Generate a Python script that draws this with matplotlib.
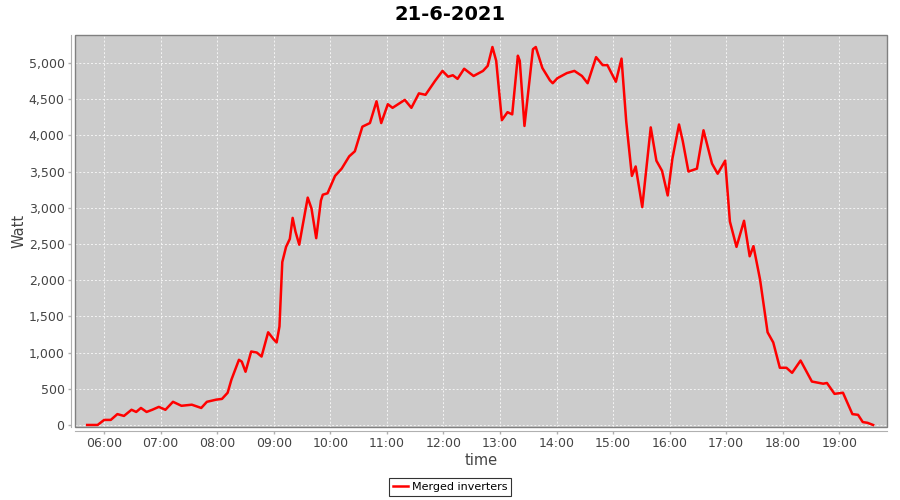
"""
Solar output for one day, merged inverters
"""
import numpy as np
import pandas as pd
import matplotlib
matplotlib.use("Agg")
import matplotlib.pyplot as plt
import matplotlib.dates as mdates
from matplotlib.patches import Rectangle
from matplotlib.ticker import FuncFormatter, MultipleLocator

day = "2021-06-21"
title = "21-6-2021"
series_name = "Merged inverters"

times = [
    "05:42", "05:53", "05:57", "06:00", "06:07", "06:14", "06:21", "06:29",
    "06:34", "06:39", "06:45", "06:51", "06:58", "07:05", "07:13", "07:22",
    "07:33", "07:43", "07:49", "07:59", "08:05", "08:11", "08:15", "08:23",
    "08:26", "08:30", "08:36", "08:42", "08:47", "08:54", "09:00", "09:03",
    "09:06", "09:09", "09:13", "09:17", "09:20", "09:23", "09:27", "09:30",
    "09:36", "09:40", "09:45", "09:50", "09:52", "09:57", "10:05", "10:12",
    "10:20", "10:26", "10:34", "10:42", "10:49", "10:54", "11:01", "11:06",
    "11:19", "11:26", "11:34", "11:41", "11:51", "11:59", "12:05", "12:10",
    "12:15", "12:22", "12:32", "12:42", "12:47", "12:52", "12:56", "13:02",
    "13:08", "13:13", "13:19", "13:21", "13:26", "13:35", "13:38", "13:45",
    "13:53", "13:56", "14:01", "14:11", "14:19", "14:27", "14:33", "14:42",
    "14:49", "14:54", "15:03", "15:09", "15:14", "15:20", "15:24", "15:31",
    "15:40", "15:46", "15:52", "15:58", "16:03", "16:10", "16:14", "16:20",
    "16:29", "16:36", "16:45", "16:51", "16:59", "17:04", "17:11", "17:19",
    "17:25", "17:29", "17:36", "17:44", "17:50", "17:57", "18:04", "18:10",
    "18:19", "18:31", "18:43", "18:47", "18:55", "19:04", "19:14", "19:20",
    "19:25", "19:30", "19:36",
]
watt = [
    0, 0, 40, 70, 70, 150, 125, 210,
    180, 235, 180, 210, 250, 210, 320, 265,
    280, 235, 320, 350, 360, 445, 625, 900,
    875, 735, 1015, 1000, 945, 1280, 1180, 1140,
    1360, 2250, 2460, 2570, 2860, 2670, 2490, 2710,
    3140, 2990, 2580, 3100, 3180, 3200, 3440, 3540,
    3710, 3780, 4120, 4170, 4470, 4170, 4430, 4380,
    4490, 4380, 4580, 4560, 4750, 4890, 4810, 4830,
    4780, 4920, 4820, 4890, 4960, 5220, 5030, 4210,
    4320, 4290, 5100, 5030, 4130, 5190, 5220, 4930,
    4760, 4720, 4790, 4860, 4890, 4820, 4720, 5080,
    4970, 4970, 4740, 5060, 4190, 3440, 3570, 3010,
    4110, 3650, 3510, 3170, 3680, 4150, 3920, 3500,
    3540, 4070, 3610, 3470, 3650, 2810, 2460, 2820,
    2330, 2470, 2010, 1280, 1140, 790, 790, 720,
    890, 600, 570, 580, 430, 445, 150, 140,
    40, 30, 0,
]

t = pd.to_datetime([f"{day} {hm}" for hm in times])

fig = plt.figure(figsize=(9, 5), dpi=100)
ax = fig.add_axes([0.0833, 0.146, 0.9022, 0.784])
ax.set_facecolor("#cccccc")

ax.plot(t, watt, color="#ff0000", lw=1.8, label=series_name,
        solid_joinstyle="round")

ax.set_xlim(pd.Timestamp(f"{day} 05:29"), pd.Timestamp(f"{day} 19:50:40"))
ax.set_ylim(-28, 5386)

ax.xaxis.set_major_locator(mdates.HourLocator())
ax.xaxis.set_major_formatter(mdates.DateFormatter("%H:%M"))
ax.yaxis.set_major_locator(MultipleLocator(500))
ax.yaxis.set_major_formatter(FuncFormatter(lambda v, p: f"{int(v):,}"))

ax.grid(True, color="#f4f4f4", ls=(0, (2, 2)), lw=0.7)
ax.set_axisbelow(True)

# plot outline plus offset axis lines, jfreechart style
for s in ax.spines.values():
    s.set_visible(False)
for side in ("left", "bottom"):
    ax.spines[side].set_visible(True)
    ax.spines[side].set_position(("outward", 3))
    ax.spines[side].set_color("#b0b0b0")
ax.add_patch(Rectangle((0, 0), 1, 1, transform=ax.transAxes, fill=False,
                       ec="#808080", lw=1, clip_on=False, zorder=5))

ax.tick_params(axis="both", colors="#b0b0b0", labelcolor="#444444",
               labelsize=9, length=2.5, width=1)
ax.tick_params(axis="x", pad=2)
ax.tick_params(axis="y", pad=2)

ax.set_xlabel("time", fontsize=10.5, color="#444444")
ax.set_ylabel("Watt", fontsize=10.5, color="#444444")
ax.xaxis.set_label_coords(0.5, -0.066)
ax.yaxis.set_label_coords(-0.06, 0.5)
fig.suptitle(title, fontsize=14, fontweight="bold", y=0.99)

leg = fig.legend(loc="center", bbox_to_anchor=(0.5, 0.026), frameon=True,
                 fancybox=False, fontsize=8, handlelength=1.4,
                 borderpad=0.35, handletextpad=0.3)
leg.get_frame().set_edgecolor("black")
leg.get_frame().set_linewidth(0.8)

fig.savefig("out.png", dpi=100)
